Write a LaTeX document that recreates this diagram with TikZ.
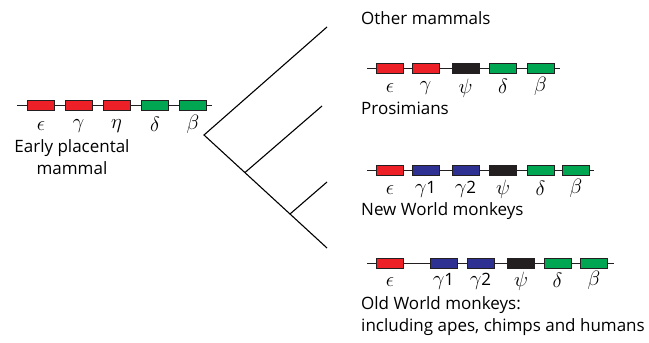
\documentclass[tikz,border=0pt]{standalone}
\usepackage{fontspec}
\setmainfont{Open Sans}
\definecolor{gred}{RGB}{237,32,39}
\definecolor{ggreen}{RGB}{0,166,81}
\definecolor{gblue}{RGB}{46,49,146}
\definecolor{gblack}{RGB}{35,31,32}
\newcommand{\gsub}[1]{{\fontsize{17}{17}\selectfont #1}}
\tikzset{
  gene/.style={draw=gblack, line width=0.9pt, minimum height=10pt, minimum width=27pt, inner sep=0pt},
  chrom/.style={draw=gblack, line width=0.9pt},
  glabel/.style={inner sep=0pt, font=\fontsize{21}{21}\selectfont},
  caption/.style={inner sep=0pt, font=\fontsize{17}{22}\selectfont},
  branch/.style={draw=black, line width=1.1pt}
}
\begin{document}
\begin{tikzpicture}[x=1pt, y=-1pt]
\useasboundingbox (0,0) rectangle (649,343);

% --- ancestral cluster ---
\coordinate (a0) at (17,105);
\coordinate (a1) at (212,105);
\draw[chrom] (a0) -- (a1);
\node[gene, fill=gred]   (ae) at (41,105) {};
\node[gene, fill=gred]   (ag) at (78.5,105) {};
\node[gene, fill=gred]   (ah) at (116.5,105) {};
\node[gene, fill=ggreen] (ad) at (155,105) {};
\node[gene, fill=ggreen] (ab) at (193,105) {};
\node[glabel] at (41,126) {$\epsilon$};
\node[glabel] at (78.5,126) {$\gamma$};
\node[glabel] at (116.5,126) {$\eta$};
\node[glabel] at (155,124) {$\delta$};
\node[glabel] at (193,124) {$\beta$};
\node[caption, align=center] (early) at (72,157) {Early placental\\mammal};

% --- tree ---
\coordinate (root) at (204,135);
\coordinate (n2) at (245,172.5);
\coordinate (n3) at (290,214);
\coordinate (t1) at (327,27);
\coordinate (t2) at (322,106);
\coordinate (t3) at (327,182);
\coordinate (t4) at (327,248);
\draw[branch] (t1) -- (root) -- (t4);
\draw[branch] (n2) -- (t2);
\draw[branch] (n3) -- (t3);

% --- other mammals ---
\node[caption, anchor=west] (om) at (361,18) {Other mammals};

% --- prosimians ---
\coordinate (p0) at (367,68.5);
\coordinate (p1) at (560,68.5);
\draw[chrom] (p0) -- (p1);
\node[gene, fill=gred]   (pe) at (390,68.5) {};
\node[gene, fill=gred]   (pg) at (425.5,68.5) {};
\node[gene, fill=gblack] (pp) at (465.5,68.5) {};
\node[gene, fill=ggreen] (pd) at (503,68.5) {};
\node[gene, fill=ggreen] (pb) at (540.5,68.5) {};
\node[glabel] at (390,88) {$\epsilon$};
\node[glabel] at (425.5,88) {$\gamma$};
\node[glabel] at (465.5,88) {$\psi$};
\node[glabel] at (503,86) {$\delta$};
\node[glabel] at (540.5,86) {$\beta$};
\node[caption, anchor=west] (pro) at (361,108) {Prosimians};

% --- new world monkeys ---
\coordinate (w0) at (367,170);
\coordinate (w1) at (594,170);
\draw[chrom] (w0) -- (w1);
\node[gene, fill=gred]   (we) at (390,170) {};
\node[gene, fill=gblue]  (wg1) at (425.5,170) {};
\node[gene, fill=gblue]  (wg2) at (465.5,170) {};
\node[gene, fill=gblack] (wp) at (503,170) {};
\node[gene, fill=ggreen] (wd) at (540.5,170) {};
\node[gene, fill=ggreen] (wb) at (576,170) {};
\node[glabel] at (390,190) {$\epsilon$};
\node[glabel] at (425.5,189) {$\gamma$\gsub{1}};
\node[glabel] at (465.5,189) {$\gamma$\gsub{2}};
\node[glabel] at (503,189) {$\psi$};
\node[glabel] at (540.5,188) {$\delta$};
\node[glabel] at (576,188) {$\beta$};
\node[caption, anchor=west] (nw) at (361,211) {New World monkeys};

% --- old world monkeys ---
\coordinate (o0) at (367,263.5);
\coordinate (o1) at (614,263.5);
\draw[chrom] (o0) -- (o1);
\node[gene, fill=gred]   (oe) at (390,263.5) {};
\node[gene, fill=gblue]  (og1) at (443.5,263.5) {};
\node[gene, fill=gblue]  (og2) at (480.5,263.5) {};
\node[gene, fill=gblack] (op) at (521,263.5) {};
\node[gene, fill=ggreen] (od) at (557.5,263.5) {};
\node[gene, fill=ggreen] (ob) at (594,263.5) {};
\node[glabel] at (390,282) {$\epsilon$};
\node[glabel] at (443.5,281) {$\gamma$\gsub{1}};
\node[glabel] at (480.5,281) {$\gamma$\gsub{2}};
\node[glabel] at (521,281) {$\psi$};
\node[glabel] at (557.5,280) {$\delta$};
\node[glabel] at (594,280) {$\beta$};
\node[caption, anchor=west, align=left] (ow) at (361,316) {Old World monkeys:\\including apes, chimps and humans};
\end{tikzpicture}
\end{document}
